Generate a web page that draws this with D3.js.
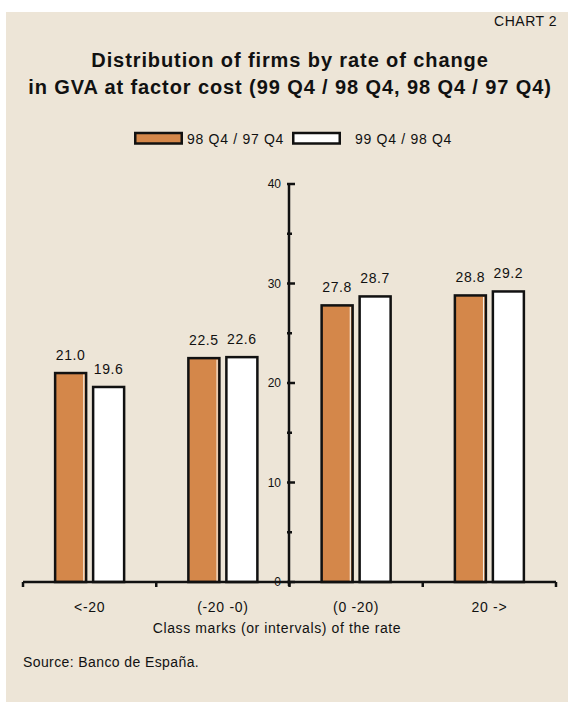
<!DOCTYPE html>
<html>
<head>
<meta charset="utf-8">
<script src="https://cdn.jsdelivr.net/npm/d3@7"></script>
<style>
  html, body { margin: 0; padding: 0; background: #ffffff; }
  svg { display: block; }
  text { font-family: "Liberation Sans", Arial, Helvetica, sans-serif; fill: #111; }
</style>
</head>
<body>
<script>
// Share of firms (%) by class of GVA growth rate
const categories = ["<-20", "(-20 -0)", "(0 -20)", "20 ->"];
const seriesNames = ["98 Q4 / 97 Q4", "99 Q4 / 98 Q4"];
const values9897 = [21.0, 22.5, 27.8, 28.8];
const values9998 = [19.6, 22.6, 28.7, 29.2];
const yTicks = [0, 10, 20, 30, 40];
const yMinorTicks = [5, 15, 25, 35];

const W = 568, H = 702;
const bg = "#EDE5D7";
const orange = "#D4874A";
const fills = [orange, "#FFFFFF"];

const svg = d3.select("body").append("svg")
  .attr("width", W).attr("height", H);

// panel background
svg.append("rect")
  .attr("x", 6).attr("y", 12)
  .attr("width", W - 6).attr("height", H - 12)
  .attr("fill", bg);

// header
svg.append("text")
  .attr("x", 557).attr("y", 26)
  .attr("text-anchor", "end")
  .style("font-size", "14px")
  .style("letter-spacing", "0.5px")
  .text("CHART 2");

const titleLines = [
  "Distribution of firms by rate of change",
  "in GVA at factor cost (99 Q4 / 98 Q4, 98 Q4 / 97 Q4)"
];
svg.append("g").selectAll("text")
  .data(titleLines)
  .join("text")
  .attr("x", 290)
  .attr("y", (d, i) => 67 + i * 27)
  .attr("text-anchor", "middle")
  .style("font-size", "20px")
  .style("font-weight", "bold")
  .style("letter-spacing", "0.9px")
  .text(d => d);

// scales
const x = d3.scaleBand().domain(categories).range([23, 556]).padding(0);
const y = d3.scaleLinear().domain([0, 40]).range([582, 184]);
const barW = 31;
const sub = d3.scaleOrdinal().domain([0, 1]).range([-34.5, 3.5]);

const rows = categories.map((c, i) => ({
  cat: c,
  vals: [values9897[i], values9998[i]]
}));

// bars
const groups = svg.append("g").selectAll("g")
  .data(rows)
  .join("g")
  .attr("transform", d => `translate(${x(d.cat) + x.bandwidth() / 2},0)`);

groups.each(function(d) {
  const g = d3.select(this);
  d.vals.forEach((v, s) => {
    const bx = sub(s);
    g.append("rect")
      .attr("x", bx).attr("y", y(v))
      .attr("width", barW).attr("height", y(0) - y(v))
      .attr("fill", fills[s])
      .attr("stroke", "#111")
      .attr("stroke-width", 2.5);
    if (s === 0) {
      // light highlight inside the right edge of the coloured bar
      g.append("line")
        .attr("x1", bx + barW - 2.3).attr("x2", bx + barW - 2.3)
        .attr("y1", y(v) + 1.5).attr("y2", y(0) - 1)
        .attr("stroke", "#F6EEE2").attr("stroke-width", 1.2);
    }
    g.append("text")
      .attr("x", bx + barW / 2)
      .attr("y", y(v) - 13)
      .attr("text-anchor", "middle")
      .style("font-size", "14px")
      .style("letter-spacing", "0.6px")
      .text(v.toFixed(1));
  });
});

// x axis line and category ticks
const xAxis = svg.append("g");
xAxis.append("line")
  .attr("x1", 23).attr("x2", 556)
  .attr("y1", y(0)).attr("y2", y(0))
  .attr("stroke", "#111").attr("stroke-width", 2.5);
const bounds = categories.map(c => x(c)).concat([x.range()[1]]);
xAxis.selectAll("line.tick")
  .data(bounds)
  .join("line")
  .attr("class", "tick")
  .attr("x1", d => d).attr("x2", d => d)
  .attr("y1", y(0)).attr("y2", y(0) + 5)
  .attr("stroke", "#111").attr("stroke-width", 2.5);
xAxis.selectAll("text")
  .data(categories)
  .join("text")
  .attr("x", d => x(d) + x.bandwidth() / 2)
  .attr("y", 612)
  .attr("text-anchor", "middle")
  .style("font-size", "14px")
  .style("letter-spacing", "0.7px")
  .text(d => d);

svg.append("text")
  .attr("x", 277).attr("y", 633)
  .attr("text-anchor", "middle")
  .style("font-size", "14px")
  .style("letter-spacing", "0.6px")
  .text("Class marks (or intervals) of the rate");

// y axis in the middle of the plot
const yAxisX = 289;
const yAxis = svg.append("g").attr("transform", `translate(${yAxisX},0)`);
yAxis.append("line")
  .attr("x1", 0).attr("x2", 0)
  .attr("y1", y(40)).attr("y2", y(0) + 4)
  .attr("stroke", "#111").attr("stroke-width", 2.5);
yAxis.selectAll("line.major")
  .data(yTicks)
  .join("line")
  .attr("class", "major")
  .attr("x1", -2).attr("x2", 6)
  .attr("y1", d => y(d)).attr("y2", d => y(d))
  .attr("stroke", "#111").attr("stroke-width", 2.5);
yAxis.selectAll("line.minor")
  .data(yMinorTicks)
  .join("line")
  .attr("class", "minor")
  .attr("x1", -2).attr("x2", 3)
  .attr("y1", d => y(d)).attr("y2", d => y(d))
  .attr("stroke", "#111").attr("stroke-width", 2.5);
yAxis.selectAll("text")
  .data(yTicks)
  .join("text")
  .attr("x", -8)
  .attr("y", d => y(d) + 4)
  .attr("text-anchor", "end")
  .style("font-size", "12px")
  .text(d => d);

// legend
const legend = svg.append("g");
const legendItems = [
  { name: seriesNames[0], sx: 134, tx: 187 },
  { name: seriesNames[1], sx: 292, tx: 355 }
];
legendItems.forEach((it, i) => {
  legend.append("rect")
    .attr("x", it.sx + 1.25).attr("y", 133)
    .attr("width", 46.5).attr("height", 10.5)
    .attr("fill", fills[i])
    .attr("stroke", "#111").attr("stroke-width", 2.5);
  legend.append("text")
    .attr("x", it.tx).attr("y", 144)
    .style("font-size", "14px")
    .style("letter-spacing", "0.7px")
    .text(it.name);
});

// source note
svg.append("text")
  .attr("x", 23).attr("y", 667)
  .style("font-size", "14px")
  .style("letter-spacing", "0.4px")
  .text("Source: Banco de España.");
</script>
</body>
</html>
